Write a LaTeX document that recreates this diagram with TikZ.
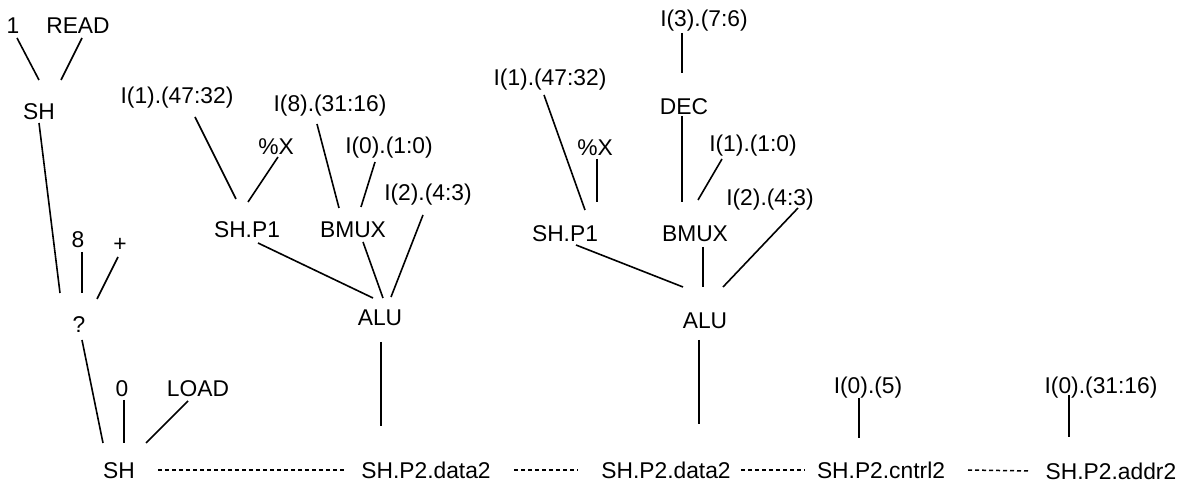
\documentclass[tikz,border=0pt]{standalone}
\usepackage{fontspec}
\setmainfont{Liberation Sans}
\tikzset{
  lbl/.style={inner sep=0pt, text height=8.15pt, text depth=0pt, font=\fontsize{11.4}{13}\selectfont},
  ln/.style={line width=0.8pt},
  dl/.style={line width=0.75pt, dash pattern=on 2pt off 1.5pt}
}
\begin{document}
\begin{tikzpicture}[x=0.5pt,y=-0.5pt]
\useasboundingbox (0,0) rectangle (1189,491);
% left tree
\node[lbl] (L1) at (13,25) {1};
\node[lbl] (LREAD) at (78,25) {READ};
\node[lbl] (LSH) at (39,111) {SH};
\node[lbl] (L8) at (78,239) {8};
\node[lbl] (Lplus) at (120,243) {+};
\node[lbl] (Lq) at (79,324) {?};
\node[lbl] (L0) at (122,388) {0};
\node[lbl] (LLOAD) at (198,388) {LOAD};
\node[lbl] (LSHb) at (119,470) {SH};
% tree A
\node[lbl] (a47) at (177,95) {I(1).(47:32)};
\node[lbl] (aX) at (276,146) {\%X};
\node[lbl] (a31) at (330,103) {I(8).(31:16)};
\node[lbl] (a10) at (389,145) {I(0).(1:0)};
\node[lbl] (a43) at (428,192) {I(2).(4:3)};
\node[lbl] (aP1) at (247,229) {SH.P1};
\node[lbl] (aB) at (353,229) {BMUX};
\node[lbl] (aALU) at (380,317) {ALU};
\node[lbl] (aD) at (426,470) {SH.P2.data2};
% tree B
\node[lbl] (bI3) at (704,18) {I(3).(7:6)};
\node[lbl] (bDEC) at (684,106) {DEC};
\node[lbl] (b47) at (550,77) {I(1).(47:32)};
\node[lbl] (bX) at (595,147) {\%X};
\node[lbl] (b10) at (753,143) {I(1).(1:0)};
\node[lbl] (b43) at (770,197) {I(2).(4:3)};
\node[lbl] (bP1) at (565,233) {SH.P1};
\node[lbl] (bB) at (695,233) {BMUX};
\node[lbl] (bALU) at (705,320) {ALU};
\node[lbl] (bD) at (666,470) {SH.P2.data2};
% right
\node[lbl] (cI) at (868,385) {I(0).(5)};
\node[lbl] (cD) at (881,470) {SH.P2.cntrl2};
\node[lbl] (dI) at (1101,385) {I(0).(31:16)};
\node[lbl] (dD) at (1111,471) {SH.P2.addr2};
% connectors left
\draw[ln] ([shift={(4,13)}]L1.center) -- ([shift={(0,-31)}]LSH.center);
\draw[ln] ([shift={(4,13)}]LREAD.center) -- ([shift={(22,-31)}]LSH.center);
\draw[ln] ([shift={(0,12)}]LSH.center) -- ([shift={(-19,-31)}]Lq.center);
\draw[ln] ([shift={(4,13)}]L8.center) -- ([shift={(3,-31)}]Lq.center);
\draw[ln] ([shift={(-2,14)}]Lplus.center) -- ([shift={(18,-25)}]Lq.center);
\draw[ln] ([shift={(3,16)}]Lq.center) -- ([shift={(-16,-27)}]LSHb.center);
\draw[ln] ([shift={(2,12)}]L0.center) -- ([shift={(5,-27)}]LSHb.center);
\draw[ln] ([shift={(-10,13)}]LLOAD.center) -- ([shift={(27,-27)}]LSHb.center);
% connectors A
\draw[ln] ([shift={(18,22)}]a47.center) -- ([shift={(-11,-30)}]aP1.center);
\draw[ln] ([shift={(2,11)}]aX.center) -- ([shift={(1,-27)}]aP1.center);
\draw[ln] ([shift={(-13,21)}]a31.center) -- ([shift={(-14,-21)}]aB.center);
\draw[ln] ([shift={(-14,17)}]a10.center) -- ([shift={(8,-22)}]aB.center);
\draw[ln] ([shift={(-5,23)}]a43.center) -- ([shift={(11,-20)}]aALU.center);
\draw[ln] ([shift={(11,14)}]aP1.center) -- ([shift={(-7,-19)}]aALU.center);
\draw[ln] ([shift={(10,13)}]aB.center) -- ([shift={(3,-19)}]aALU.center);
\draw[ln] ([shift={(1,25)}]aALU.center) -- ([shift={(-45,-44)}]aD.center);
% connectors B
\draw[ln] ([shift={(-22,15)}]bI3.center) -- ([shift={(-2,-33)}]bDEC.center);
\draw[ln] ([shift={(-6,18)}]b47.center) -- ([shift={(20,-23)}]bP1.center);
\draw[ln] ([shift={(2,12)}]bX.center) -- ([shift={(32,-31)}]bP1.center);
\draw[ln] ([shift={(-2,10)}]bDEC.center) -- ([shift={(-13,-31)}]bB.center);
\draw[ln] ([shift={(-31,16)}]b10.center) -- ([shift={(3,-33)}]bB.center);
\draw[ln] ([shift={(28,11)}]b43.center) -- ([shift={(18,-33)}]bALU.center);
\draw[ln] ([shift={(11,12)}]bP1.center) -- ([shift={(-22,-33)}]bALU.center);
\draw[ln] ([shift={(8,14)}]bB.center) -- ([shift={(-2,-33)}]bALU.center);
\draw[ln] ([shift={(-6,20)}]bALU.center) -- ([shift={(33,-46)}]bD.center);
% connectors right
\draw[ln] ([shift={(-9,13)}]cI.center) -- ([shift={(-22,-32)}]cD.center);
\draw[ln] ([shift={(-32,10)}]dI.center) -- ([shift={(-42,-34)}]dD.center);
% dotted chain
\draw[dl] ([shift={(39,0)}]LSHb.center) -- ([shift={(-79,0)}]aD.center);
\draw[dl] ([shift={(88,0)}]aD.center) -- ([shift={(-88,0)}]bD.center);
\draw[dl] ([shift={(75,0)}]bD.center) -- ([shift={(-76,0)}]cD.center);
\draw[dl] ([shift={(87,0)}]cD.center) -- ([shift={(-81,0)}]dD.center);
\end{tikzpicture}
\end{document}
